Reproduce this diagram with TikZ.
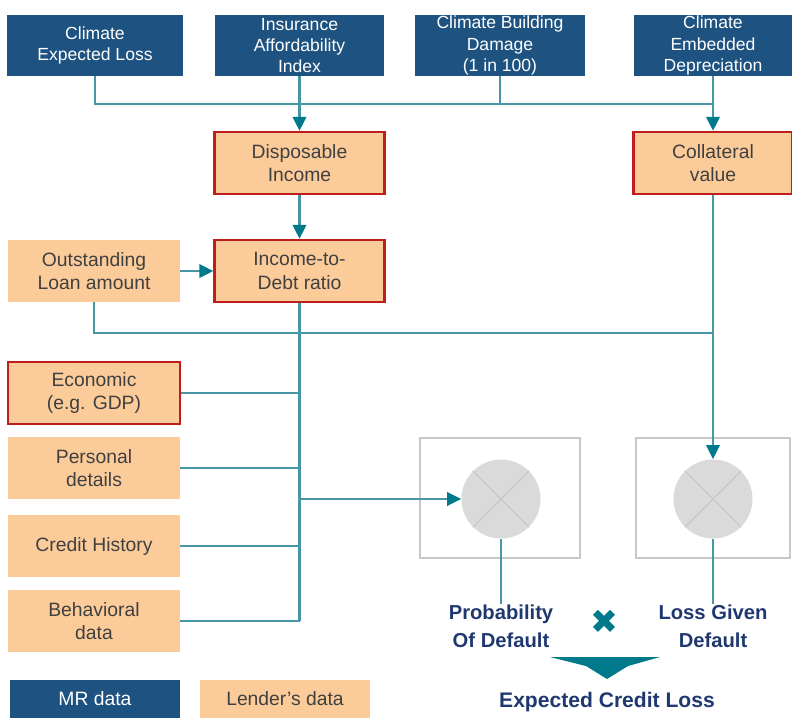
\documentclass[tikz,border=0pt]{standalone}
\usepackage{fontspec}
\setmainfont{Liberation Sans}
\newfontfamily\symfont{DejaVu Sans}
\usetikzlibrary{positioning,arrows.meta}
\definecolor{mrblue}{RGB}{30,82,128}
\definecolor{lender}{RGB}{251,203,154}
\definecolor{keyred}{RGB}{192,30,30}
\definecolor{flow}{RGB}{70,150,166}
\definecolor{tipteal}{RGB}{0,122,138}
\definecolor{navy}{RGB}{32,56,112}
\definecolor{framegray}{RGB}{200,200,200}
\definecolor{bubble}{RGB}{218,218,218}

\begin{document}
\begin{tikzpicture}[x=0.02cm,y=-0.02cm,
mr/.style={rectangle,fill=mrblue,text=white,minimum width=3.4cm,minimum height=1.22cm,
  inner sep=0pt,align=center,font=\fontsize{10}{12}\selectfont},
ld/.style={rectangle,fill=lender,text=black!75,minimum width=3.4cm,minimum height=1.24cm,
  inner sep=0pt,align=center,font=\fontsize{11}{13.5}\selectfont},
key/.style={ld,draw=keyred,line width=1.4pt},
conn/.style={draw=flow,line width=1.2pt},
edge/.style={conn,-{Triangle[length=0.28cm,width=0.27cm,color=tipteal]}},
frame/.style={rectangle,draw=framegray,line width=1.1pt,minimum width=3.2cm,minimum height=2.4cm},
ball/.style={circle,fill=bubble,minimum size=1.58cm,inner sep=0pt},
result/.style={align=center,text=navy,inner sep=0pt,font=\fontsize{11.5}{16}\selectfont\bfseries}]

\useasboundingbox (0,0) rectangle (792,718);

% MR inputs
\node[mr,minimum width=3.52cm] (cel) at (95,45.5) {Climate\\Expected Loss};
\node[mr] (iai) at (299.5,45.5) {Insurance\\Affordability\\Index};
\node[mr] (cbd) at (500,45.5) {Climate Building\\Damage\\(1 in 100)};
\node[mr,minimum width=3.16cm] (ced) at (713,45.5) {Climate\\Embedded\\Depreciation};

% derived
\node[key] (di) at (299.5,163) {Disposable\\Income};
\node[key,minimum width=3.18cm] (cv) at (713,163) {Collateral\\value};
\node[key] (idr) at (299.5,271) {Income-to-\\Debt ratio};
\node[ld,minimum width=3.44cm] (ola) at (94,271) {Outstanding\\Loan amount};

% lender inputs
\node[key,minimum width=3.44cm] (eco) at (94,393) {Economic\\(e.g. GDP)};
\node[ld,minimum width=3.44cm] (pers) at (94,468) {Personal\\details};
\node[ld,minimum width=3.44cm] (hist) at (94,546) {Credit History};
\node[ld,minimum width=3.44cm] (beh) at (94,621) {Behavioral\\data};

% model boxes
\node[frame] (pdbox) at (500,498) {};
\node[frame,minimum width=3.08cm] (lgdbox) at (713,498) {};
\node[ball] (pdc) at (501,499) {};
\node[ball] (lgdc) at (713,499) {};
\draw[framegray!80!black!60,line width=0.6pt] (pdc.45) -- (pdc.225) (pdc.135) -- (pdc.315);
\draw[framegray!80!black!60,line width=0.6pt] (lgdc.45) -- (lgdc.225) (lgdc.135) -- (lgdc.315);

% outputs
\node[result] (pdl) at (501,626) {Probability\\Of Default};
\node[result] (lgdl) at (713,626) {Loss Given\\Default};
\node[text=tipteal,inner sep=0pt,font=\symfont\fontsize{19}{19}\selectfont] (times) at (604,622) {✖};
\fill[tipteal] (550,657) -- (660,657) -- (628,666) -- (607,679) -- (586,666) -- cycle;
\node[result,font=\fontsize{12}{14}\selectfont\bfseries] (ecl) at (607,702) {Expected Credit Loss};

% key
\node[mr,minimum height=0.76cm,font=\fontsize{11}{13}\selectfont] (mrkey) at (95,699) {MR data};
\node[ld,minimum height=0.76cm] (ldkey) at (285,699) {Lender’s data};

% connectors
\coordinate (busL) at (95,104);
\coordinate (busR) at (713,104);
\draw[conn] (cel.south) -- (busL) -- (busR);
\draw[conn] (cbd) -- (cbd |- busL);
\draw[edge] (iai) -- (di);
\draw[edge] (ced) -- (cv);
\draw[edge] (di) -- (idr);
\draw[edge] (ola) -- (idr);

\coordinate (loan) at (713,333);
\draw[conn] (ola.south) |- (loan);
\draw[edge] (cv) -- (lgdc);

\coordinate (spine) at (299.5,621);
\draw[conn] (idr.south) -- (spine);
\foreach \n in {eco,pers,hist,beh}
  \draw[conn] (\n.east) -- (\n -| spine);
\coordinate (split) at (299.5,499);
\draw[edge] (split) -- (pdc);

\draw[conn] (pdc) -- (pdl);
\draw[conn] (lgdc) -- (lgdl);

\end{tikzpicture}
\end{document}
